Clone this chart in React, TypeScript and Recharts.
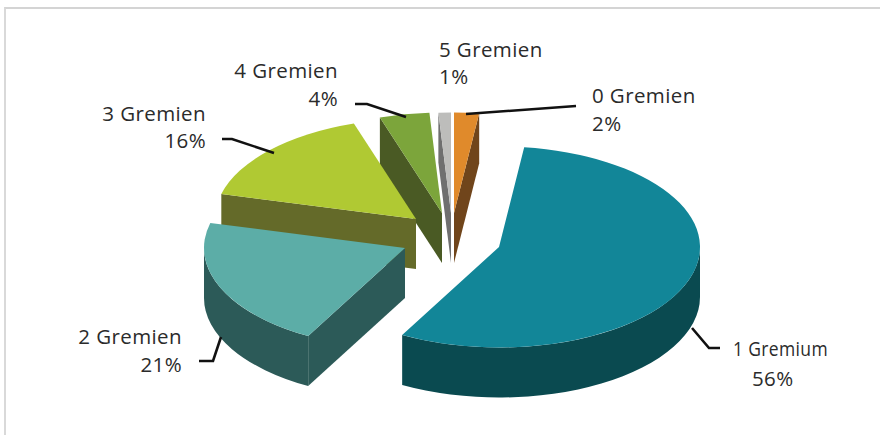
import { PieChart, Pie } from 'recharts'

const categories = ['5 Gremien', '4 Gremien', '3 Gremien', '2 Gremien', '1 Gremium', '0 Gremien']
const shares = [1, 4, 16, 21, 56, 2]

const topColors = ['#bdbdbb', '#7ca53b', '#b0c933', '#5cada7', '#128698', '#e08a2b']
const sideColors = ['#6f6f6f', '#4a5a24', '#646a29', '#2c5a58', '#0a4a50', '#70451b']

// how far each slice is pulled out of the pie centre
const explodeX = [-48, -57, -83, -94, 0, -45]
const explodeY = [-34, -34, -28, 1, 0, -34]

// caption anchor, text baselines and leader line per slice
const labelX = [439, 338, 206, 182, 733, 592]
const labelAnchors = ['start', 'end', 'end', 'end', 'start', 'start']
const percentX = [439, 338, 206, 182, 752, 592]
const nameBaselines = [57, 78, 121, 344, 356, 103]
const percentBaselines = [84, 106, 148, 372, 386, 131]
const leaders = [
  '',
  '355,104 367,104 406,117',
  '222,139 232,139 274,153',
  '199,361 213,361 221,337',
  '720,348 709,348 692,328',
  '466,114 576,106',
]

const data = categories.map((name, i) => ({ name, value: shares[i] }))

const SQUASH = 0.5
const DEPTH = 50
const RAD = Math.PI / 180

function Slice3D(props: any) {
  const { cx, cy, outerRadius: r, startAngle, endAngle, index } = props
  const i = index ?? categories.indexOf(props.name)
  const ox = cx + explodeX[i]
  const oy = cy + explodeY[i]
  const px = (a: number) => ox + r * Math.cos(a * RAD)
  const py = (a: number) => oy - r * SQUASH * Math.sin(a * RAD)
  const ry = r * SQUASH
  const large = endAngle - startAngle > 180 ? 1 : 0

  const top = `M${ox},${oy} L${px(startAngle)},${py(startAngle)} A${r},${ry} 0 ${large} 0 ${px(endAngle)},${py(endAngle)} Z`

  const walls: string[] = []
  const radialWall = (a: number) =>
    `M${ox},${oy} L${px(a)},${py(a)} L${px(a)},${py(a) + DEPTH} L${ox},${oy + DEPTH} Z`
  if (Math.sin((startAngle - 90) * RAD) < 0) walls.push(radialWall(startAngle))
  if (Math.sin((endAngle + 90) * RAD) < 0) walls.push(radialWall(endAngle))

  // the rim only shows on the front half of the ellipse (180..360 degrees)
  const ranges = [
    [Math.max(startAngle, 180), Math.min(endAngle, 360)],
    [Math.max(startAngle, 540), Math.min(endAngle, 720)],
  ]
  ranges.forEach(([a, b]) => {
    if (b <= a) return
    const big = b - a > 180 ? 1 : 0
    walls.push(
      `M${px(a)},${py(a)} A${r},${ry} 0 ${big} 0 ${px(b)},${py(b)} L${px(b)},${py(b) + DEPTH} A${r},${ry} 0 ${big} 1 ${px(a)},${py(a) + DEPTH} Z`,
    )
  })

  return (
    <g>
      {walls.map((d, k) => (
        <path key={k} d={d} fill={sideColors[i]} />
      ))}
      <path d={top} fill={topColors[i]} />
    </g>
  )
}

function SliceLabel(props: any) {
  const { index: i } = props
  const common = { fill: '#2b2b2b', fontFamily: 'Open Sans', fontSize: 20.5, letterSpacing: 0.4 }
  // the "1 Gremium" caption is set narrower than the others
  const narrow = categories[i] === '1 Gremium' ? { textLength: 95, lengthAdjust: 'spacingAndGlyphs' } : {}
  return (
    <g>
      {leaders[i] && <polyline points={leaders[i]} fill="none" stroke="#111" strokeWidth={2.6} />}
      <text x={labelX[i]} y={nameBaselines[i]} textAnchor={labelAnchors[i]} {...common} {...narrow}>
        {categories[i]}
      </text>
      <text x={percentX[i]} y={percentBaselines[i]} textAnchor={labelAnchors[i]} {...common}>
        {shares[i]}%
      </text>
    </g>
  )
}

export default function App() {
  return (
    <div style={{ position: 'absolute', left: 0, top: 0, width: 880, height: 435, background: '#fff' }}>
      <div
        style={{
          position: 'absolute',
          left: 4,
          top: 7,
          right: 0,
          bottom: 0,
          borderTop: '2px solid #d4d4d4',
          borderLeft: '2px solid #d9d9d9',
        }}
      />
      <div style={{ position: 'absolute', left: 0, top: 0 }}>
        <PieChart width={880} height={435} margin={{ top: 0, right: 0, bottom: 0, left: 0 }}>
          <Pie
            data={data}
            dataKey="value"
            nameKey="name"
            cx={499}
            cy={247}
            innerRadius={0}
            outerRadius={201}
            startAngle={90}
            endAngle={450}
            stroke="none"
            shape={Slice3D}
            label={SliceLabel}
            labelLine={false}
            isAnimationActive={false}
          />
        </PieChart>
      </div>
    </div>
  )
}
